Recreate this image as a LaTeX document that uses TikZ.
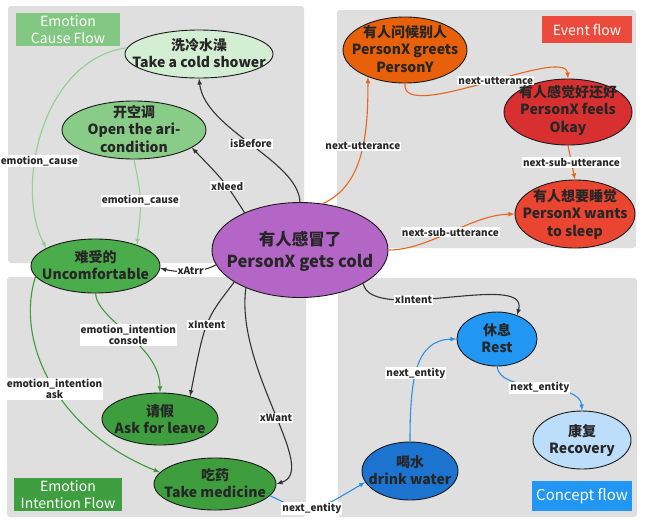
\documentclass[tikz,border=0pt]{standalone}
\usepackage{fontspec}
\setmainfont{Noto Sans CJK SC}
\usetikzlibrary{shapes}
\definecolor{panelgray}{HTML}{DFDFDF}
\definecolor{causetag}{HTML}{82C882}
\definecolor{eventtag}{HTML}{EC4A3C}
\definecolor{intenttag}{HTML}{3F9E3F}
\definecolor{concepttag}{HTML}{2196F3}
\definecolor{showerc}{HTML}{D4EED4}
\definecolor{airc}{HTML}{88CC88}
\definecolor{uncc}{HTML}{4BAC4B}
\definecolor{darkgreen}{HTML}{3E9E3E}
\definecolor{purplec}{HTML}{B466C6}
\definecolor{greetc}{HTML}{E8600A}
\definecolor{okayc}{HTML}{D83030}
\definecolor{sleepc}{HTML}{EA4530}
\definecolor{restc}{HTML}{2196F3}
\definecolor{recc}{HTML}{BCDEFA}
\definecolor{drinkc}{HTML}{1D74D0}
\definecolor{ltgreenline}{HTML}{8ED28E}
\definecolor{greenline}{HTML}{3C9C3C}
\definecolor{orangeline}{HTML}{E8661A}
\definecolor{blueline}{HTML}{2D8FE3}
\newcommand{\ntxt}[2][5pt]{\smash{\raisebox{-#1}{\makebox[0pt]{\begin{tabular}{@{}c@{}}#2\end{tabular}}}}}
\tikzset{
  panel/.style={fill=panelgray, rounded corners=3pt},
  tag/.style={text=white, font=\fontsize{14}{16.5}\selectfont, align=center, inner sep=0pt},
  evt/.style={ellipse, draw=black!90, line width=0.9pt, inner sep=0pt, text=black!85,
    font=\fontsize{14}{17.5}\selectfont\bfseries},
  elabel/.style={fill=white, inner sep=1pt, text=black!85,
    font=\fontsize{10}{11.5}\selectfont\bfseries},
  blkedge/.style={draw=black!80, line width=1.1pt, ->},
  ltgreenedge/.style={draw=ltgreenline, line width=1.1pt, ->},
  greenedge/.style={draw=greenline, line width=1.1pt, ->},
  orangeedge/.style={draw=orangeline, line width=1.1pt, ->},
  blueedge/.style={draw=blueline, line width=1.1pt, ->}
}
\begin{document}
\begin{tikzpicture}[x=1pt, y=-1pt, >=latex]
\useasboundingbox (0,0) rectangle (647,528);
\fill[white] (0,0) rectangle (647,528);
\fill[panel] (8,6) rectangle (304,263);
\fill[panel] (337,10) rectangle (636,248);
\fill[panel] (7,277) rectangle (306,517);
\fill[panel] (338,278) rectangle (637,517);

\node[tag, fill=causetag, minimum width=104, minimum height=33] (causetag) at (68,29.5) {Emotion\\Cause Flow};
\node[tag, fill=eventtag, minimum width=90, minimum height=27] (eventtag) at (587,29.5) {Event flow};
\node[tag, fill=intenttag, minimum width=108, minimum height=33] (intenttag) at (68,494.5) {Emotion\\Intention Flow};
\node[tag, fill=concepttag, minimum width=100, minimum height=30, font=\fontsize{15}{17}\selectfont] (concepttag) at (582,496) {Concept flow};

\node[evt, fill=showerc, minimum width=148, minimum height=48] (shower) at (199,54) {\ntxt{洗冷水澡\\Take a cold shower}};
\node[evt, fill=airc, minimum width=144, minimum height=58] (air) at (134,130) {\ntxt{开空调\\Open the ari-\\condition}};
\node[evt, fill=uncc, minimum width=129, minimum height=54] (unc) at (95.5,266) {\ntxt{难受的\\Uncomfortable}};
\node[evt, fill=purplec, minimum width=176, minimum height=95, font=\fontsize{16.5}{22}\selectfont\bfseries] (ctr) at (300,250) {\ntxt[6pt]{有人感冒了\\PersonX gets cold}};
\node[evt, fill=greetc, minimum width=124, minimum height=66] (greets) at (405,50) {\ntxt{有人问候别人\\PersonX greets\\PersonY}};
\node[evt, fill=okayc, minimum width=128, minimum height=66] (okay) at (568,112) {\ntxt[3pt]{有人感觉好还好\\PersonX feels\\Okay}};
\node[evt, fill=sleepc, minimum width=120, minimum height=68] (sleep) at (575,214) {\ntxt{有人想要睡觉\\PersonX wants\\to sleep}};
\node[evt, fill=darkgreen, minimum width=116, minimum height=52] (leave) at (160,419) {\ntxt[6pt]{请假\\Ask for leave}};
\node[evt, fill=darkgreen, minimum width=122, minimum height=52] (med) at (215,484) {\ntxt{吃药\\Take medicine}};
\node[evt, fill=restc, minimum width=80, minimum height=54] (rest) at (497,339) {\ntxt{休息\\Rest}};
\node[evt, fill=recc, minimum width=98, minimum height=58] (rec) at (582,440) {\ntxt{康复\\Recovery}};
\node[evt, fill=drinkc, minimum width=96, minimum height=58] (drink) at (410,471) {\ntxt{喝水\\drink water}};

\draw[blkedge] (ctr.north) .. controls (298,160) and (205,130) .. (shower.south) node[elabel, pos=0.5] {isBefore};
\draw[blkedge] (ctr.146) .. controls (225,182) .. (air.-17) node[elabel, pos=0.4] {xNeed};
\draw[blkedge] (ctr.190) .. controls (200,274) and (175,272) .. (unc.-2) node[elabel, pos=0.45] {xAtrr};
\draw[ltgreenedge] (shower.175) .. controls (40,60) and (15,190) .. (unc.160) node[elabel, pos=0.62, xshift=4pt] {emotion\_cause};
\draw[ltgreenedge] (air.south) .. controls (142,200) .. (unc.27) node[elabel, pos=0.5] {emotion\_cause};
\draw[greenedge] (unc.south) .. controls (97,320) and (160,345) .. (leave.north) node[elabel, align=center, pos=0.5] {emotion\_intention\\console};
\draw[greenedge] (unc.190) .. controls (15,340) and (55,430) .. (med.168) node[elabel, align=center, pos=0.53] {emotion\_intention\\ask};
\draw[blkedge] (ctr.206) .. controls (205,320) .. (leave.37) node[elabel, pos=0.5] {xIntent};
\draw[blkedge] (ctr.215) .. controls (235,370) and (320,470) .. (med.east) node[elabel, pos=0.53] {xWant};
\draw[blkedge] (ctr.-28) .. controls (372,325) and (530,270) .. (rest.50) node[elabel, pos=0.35] {xIntent};
\draw[blueedge] (med.-12) .. controls (310,515) .. (drink.194) node[elabel, pos=0.5] {next\_entity};
\draw[blueedge] (drink.north) .. controls (410,380) and (415,340) .. (rest.west) node[elabel, pos=0.45] {next\_entity};
\draw[blueedge] (rest.south) .. controls (500,395) and (580,380) .. (rec.north) node[elabel, pos=0.5] {next\_entity};
\draw[orangeedge] (ctr.64) .. controls (365,185) and (368,130) .. (greets.216) node[elabel, pos=0.55] {next-utterance};
\draw[orangeedge] (greets.south) .. controls (400,125) and (565,45) .. (okay.north) node[elabel, pos=0.55] {next-utterance};
\draw[orangeedge] (okay.south) -- (sleep.north) node[elabel, pos=0.5] {next-sub-utterance};
\draw[orangeedge] (ctr.east) .. controls (430,250) and (470,215) .. (sleep.west) node[elabel, pos=0.5] {next-sub-utterance};
\end{tikzpicture}
\end{document}
